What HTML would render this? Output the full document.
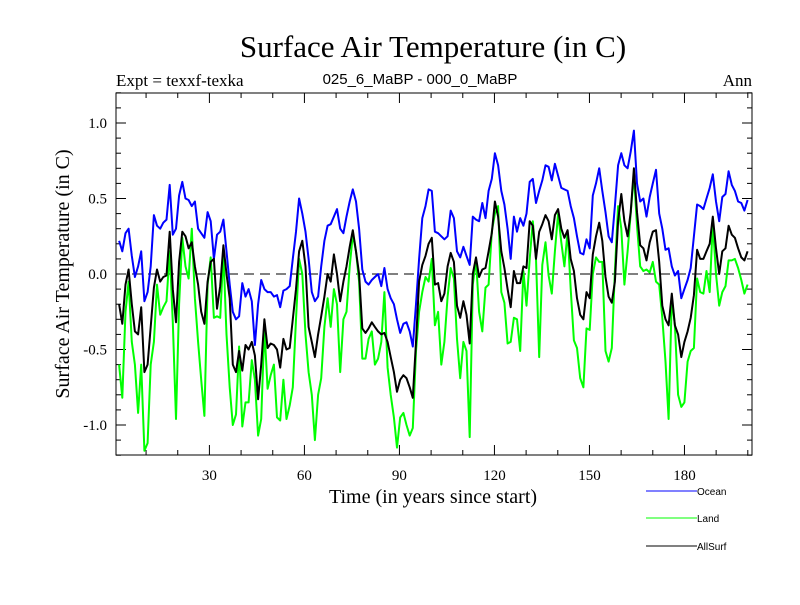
<!DOCTYPE html>
<html><head><meta charset="utf-8"><style>
body{margin:0;background:#fff}
svg text{font-family:"Liberation Serif",serif}
</style></head><body>
<svg id="chart" width="800" height="600" viewBox="0 0 800 600" xmlns="http://www.w3.org/2000/svg">
<text x="433" y="57" font-size="31" text-anchor="middle">Surface Air Temperature (in C)</text>
<text x="116" y="86" font-size="17">Expt = texxf-texka</text>
<text x="420" y="84" font-size="15" text-anchor="middle" style="font-family:'Liberation Sans',sans-serif">025_6_MaBP - 000_0_MaBP</text>
<text x="752" y="86" font-size="17" text-anchor="end">Ann</text>
<text transform="translate(69,274) rotate(-90)" font-size="20" text-anchor="middle">Surface Air Temperature (in C)</text>
<text x="433" y="503" font-size="20" text-anchor="middle">Time (in years since start)</text>
<g id="axes"></g>
<g id="series"></g>
<g>
<line x1="646" y1="491" x2="697" y2="491" stroke="#0000ff" stroke-width="1"/>
<text x="697" y="495" font-size="10" style="font-family:'Liberation Sans',sans-serif">Ocean</text>
<line x1="646" y1="518" x2="697" y2="518" stroke="#00ff00" stroke-width="1"/>
<text x="697" y="522" font-size="10" style="font-family:'Liberation Sans',sans-serif">Land</text>
<line x1="646" y1="546" x2="697" y2="546" stroke="#000" stroke-width="1"/>
<text x="697" y="550" font-size="10" style="font-family:'Liberation Sans',sans-serif">AllSurf</text>
</g>
</svg>
<script>
const ocean=[0.22,0.15,0.27,0.30,0.12,-0.02,0.05,0.15,-0.18,-0.12,0.05,0.39,0.32,0.30,0.34,0.36,0.59,0.26,0.30,0.52,0.61,0.50,0.49,0.45,0.48,0.30,0.27,0.24,0.41,0.35,0.10,0.26,0.28,0.36,0.15,-0.07,-0.25,-0.30,-0.28,-0.06,-0.15,-0.10,-0.18,-0.47,-0.20,-0.04,-0.10,-0.12,-0.12,-0.15,-0.14,-0.22,
-0.11,-0.10,-0.08,0.10,0.28,0.50,0.40,0.28,0.10,-0.12,-0.18,-0.15,0.05,0.22,0.32,0.33,0.38,0.43,0.30,0.27,0.38,0.48,0.56,0.48,0.30,0.03,-0.05,-0.07,-0.04,-0.02,0.00,-0.08,0.04,-0.10,-0.16,-0.20,-0.30,-0.39,-0.33,-0.32,-0.38,-0.48,-0.20,0.10,0.37,0.45,0.56,0.55,0.28,0.27,0.25,
0.23,0.25,0.42,0.37,0.15,0.11,0.18,0.12,0.06,0.38,0.36,0.35,0.47,0.37,0.55,0.63,0.80,0.72,0.55,0.46,0.30,0.10,0.38,0.28,0.37,0.32,0.40,0.61,0.63,0.47,0.55,0.62,0.72,0.71,0.62,0.73,0.65,0.57,0.56,0.55,0.45,0.37,0.25,0.14,0.13,0.23,0.17,0.52,0.60,
0.70,0.55,0.41,0.25,0.21,0.45,0.72,0.80,0.72,0.70,0.81,0.95,0.60,0.48,0.50,0.38,0.51,0.60,0.69,0.40,0.30,0.16,0.17,0.05,-0.01,0.02,-0.16,-0.10,-0.04,0.04,0.25,0.46,0.45,0.43,0.50,0.57,0.66,0.48,0.35,0.51,0.53,0.68,0.59,0.55,0.48,0.47,0.42,0.49];
const land=[-0.60,-0.82,-0.25,-0.05,-0.45,-0.60,-0.92,-0.60,-1.17,-1.12,-0.60,-0.45,-0.07,-0.27,-0.22,-0.18,0.15,-0.32,-0.96,-0.20,0.24,0.05,-0.03,0.30,-0.16,-0.45,-0.70,-0.94,-0.07,0.11,-0.29,-0.28,-0.29,0.14,-0.40,-0.75,-1.00,-0.93,-0.48,-1.01,-0.85,-0.85,-0.57,-0.70,-1.07,-0.96,-0.36,-0.76,-0.67,-0.60,-0.95,-0.97,
-0.70,-0.96,-0.87,-0.75,-0.30,0.10,0.00,-0.40,-0.65,-0.80,-1.10,-0.80,-0.69,-0.35,-0.16,-0.35,-0.10,-0.20,-0.65,-0.30,-0.25,0.05,0.26,0.15,-0.05,-0.56,-0.56,-0.43,-0.38,-0.60,-0.56,-0.45,-0.12,-0.62,-0.80,-0.95,-1.15,-0.95,-0.92,-1.00,-1.07,-1.02,-0.51,-0.25,-0.12,-0.02,-0.05,0.10,-0.34,-0.25,-0.60,
-0.45,-0.15,0.04,-0.03,-0.43,-0.69,-0.45,-0.51,-1.08,-0.07,0.10,-0.25,-0.38,-0.09,-0.07,0.28,0.40,0.45,-0.12,-0.19,-0.46,-0.45,-0.29,-0.30,-0.51,0.02,-0.21,0.10,0.35,0.10,-0.55,0.06,0.21,-0.01,-0.13,0.15,0.40,0.21,0.05,0.28,-0.10,-0.44,-0.49,-0.69,-0.75,-0.36,-0.37,0.00,0.11,
0.08,0.08,-0.51,-0.58,-0.49,0.02,0.45,0.30,-0.07,0.15,0.40,0.66,0.32,0.05,0.02,0.03,0.01,0.08,-0.05,-0.07,-0.29,-0.58,-0.96,-0.16,-0.34,-0.80,-0.88,-0.85,-0.58,-0.51,-0.49,-0.03,-0.12,-0.13,0.02,-0.12,0.34,0.00,-0.21,-0.12,-0.08,0.09,0.09,0.10,0.04,-0.04,-0.13,-0.07];
const allsurf=[-0.20,-0.33,-0.07,0.03,-0.20,-0.38,-0.40,-0.22,-0.65,-0.60,-0.35,-0.09,0.03,-0.05,-0.02,-0.01,0.28,-0.10,-0.32,0.08,0.28,0.25,0.17,0.21,0.05,-0.07,-0.25,-0.33,-0.05,0.08,0.10,-0.23,-0.08,0.19,0.00,-0.16,-0.60,-0.65,-0.51,-0.64,-0.47,-0.50,-0.45,-0.54,-0.83,-0.60,-0.30,-0.49,-0.46,-0.47,-0.50,-0.62,
-0.43,-0.50,-0.49,-0.30,-0.10,0.15,0.22,0.05,-0.35,-0.45,-0.55,-0.40,-0.28,-0.15,0.00,-0.05,0.13,0.00,-0.18,-0.05,0.05,0.18,0.29,0.15,0.00,-0.36,-0.39,-0.36,-0.32,-0.35,-0.38,-0.40,-0.39,-0.45,-0.55,-0.65,-0.78,-0.70,-0.67,-0.69,-0.75,-0.82,-0.45,-0.05,0.06,0.12,0.20,0.24,-0.07,-0.06,-0.18,
-0.13,0.05,0.14,0.08,-0.21,-0.29,-0.18,-0.27,-0.46,0.00,0.11,-0.02,0.03,0.04,0.15,0.27,0.48,0.38,0.15,0.04,-0.10,-0.22,0.02,-0.06,-0.06,0.05,0.04,0.35,0.32,0.10,0.28,0.33,0.39,0.35,0.23,0.39,0.43,0.30,0.24,0.29,0.10,0.02,-0.16,-0.27,-0.30,-0.12,-0.16,0.13,0.25,
0.34,0.22,-0.02,-0.15,-0.19,-0.05,0.35,0.53,0.35,0.25,0.41,0.70,0.41,0.19,0.17,0.09,0.21,0.28,0.29,0.08,-0.21,-0.30,-0.34,-0.13,-0.34,-0.40,-0.55,-0.45,-0.38,-0.29,-0.14,0.16,0.10,0.10,0.15,0.20,0.38,0.17,0.00,0.15,0.17,0.32,0.26,0.24,0.17,0.11,0.09,0.15];
const yTicks=[-1.0,-0.5,0.0,0.5,1.0];
const yTickLabels=["-1.0","-0.5","0.0","0.5","1.0"];
const xTicks=[30,60,90,120,150,180];
const xTickLabels=["30","60","90","120","150","180"];

const L=116,R=752,T=93,B=455;
const xS=v=>114.4+(v+0.5)*3.158;
const yS=v=>274-v*151;
const NS="http://www.w3.org/2000/svg";
function mk(tag,attrs,parent){const e=document.createElementNS(NS,tag);for(const k in attrs)e.setAttribute(k,attrs[k]);parent.appendChild(e);return e;}
const ax=document.getElementById('axes'), sg=document.getElementById('series');
const defs=mk('defs',{},document.getElementById('chart'));
const cp=mk('clipPath',{id:'clip'},defs);mk('rect',{x:L,y:T,width:R-L,height:B-T},cp);
const zero=mk('line',{x1:L,x2:R,y1:yS(0),y2:yS(0),stroke:'#000','stroke-width':1,'stroke-dasharray':'10,6'},ax);


for(let k=-12;k<=12;k++){const v=k/10,y=yS(v),maj=(k%5===0),len=maj?10:5;
 mk('line',{x1:L,x2:L+len,y1:y,y2:y,stroke:'#000','stroke-width':1},ax);
 mk('line',{x1:R,x2:R-len,y1:y,y2:y,stroke:'#000','stroke-width':1},ax);}
yTicks.forEach((v,i)=>{const t=mk('text',{x:107,y:yS(v)+5,'font-size':15,'text-anchor':'end'},ax);t.textContent=yTickLabels[i];
 
 });
for(let v=10;v<=200;v+=10){const x=114.4+v*3.167,maj=(v%30===0),len=maj?10:5;
 mk('line',{x1:x,x2:x,y1:B,y2:B-len,stroke:'#000','stroke-width':1},ax);
 mk('line',{x1:x,x2:x,y1:T,y2:T+len,stroke:'#000','stroke-width':1},ax);}
xTicks.forEach((v,i)=>{const t=mk('text',{x:114.4+v*3.167,y:480,'font-size':15,'text-anchor':'middle'},ax);t.textContent=xTickLabels[i];
 
 });
const fr=mk('rect',{x:L,y:T,width:R-L,height:B-T,fill:'none',stroke:'#000','stroke-width':1},ax);


function line(data,color,name){const d=data.map((v,i)=>(i?'L':'M')+xS(i+1).toFixed(1)+','+yS(v).toFixed(1)).join('');
 const p=mk('path',{d:d,fill:'none',stroke:color,'stroke-width':2,'stroke-linejoin':'round','clip-path':'url(#clip)'},sg);
 
 }
line(ocean,'#0000ff','ocean-line');
line(land,'#00ff00','land-line');
line(allsurf,'#000000','allsurf-line');
</script>
</body></html>
